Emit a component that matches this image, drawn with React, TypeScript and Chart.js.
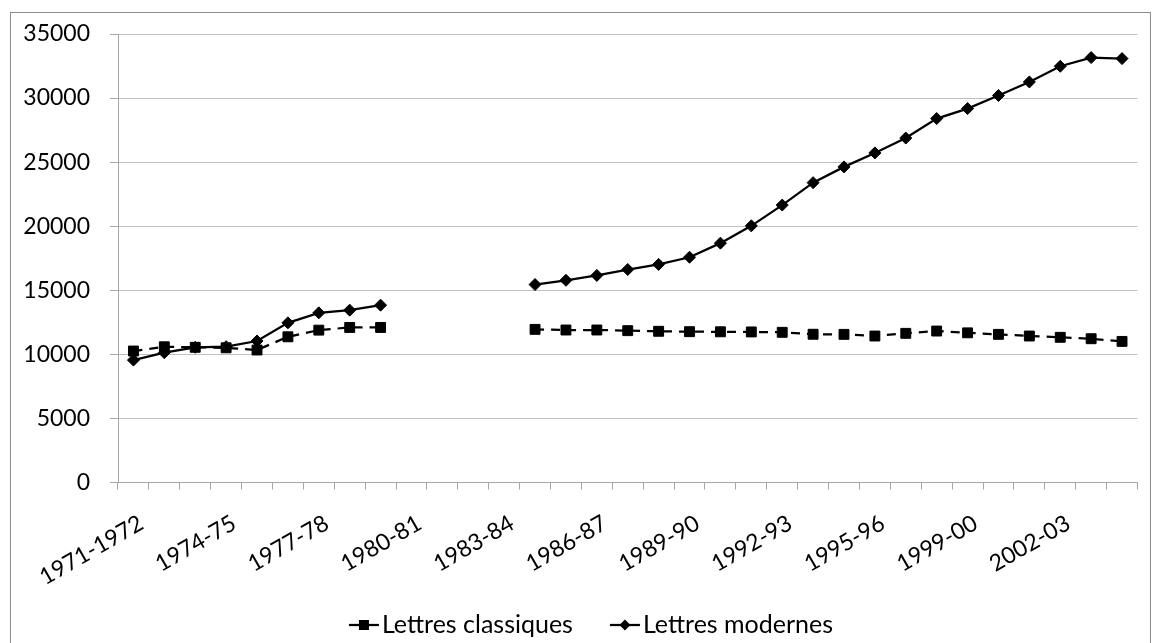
import React, { useEffect, useRef } from "react";
import { Chart, registerables } from "chart.js";

Chart.register(...registerables);

const categories: string[] = [
  "1971-1972", "1972-73", "1973-74", "1974-75", "1975-76", "1976-77", "1977-78",
  "1978-79", "1979-80", "1980-81", "1981-82", "1982-83", "1983-84", "1984-85",
  "1985-86", "1986-87", "1987-88", "1988-89", "1989-90", "1990-91", "1991-92",
  "1992-93", "1993-94", "1994-95", "1995-96", "1996-97", "1997-98", "1999-00",
  "2000-01", "2001-02", "2002-03", "2003-04", "2004-05",
];

const lettresClassiques: (number | null)[] = [
  10260, 10590, 10550, 10510, 10340, 11370, 11890, 12100, 12100,
  null, null, null, null,
  11950, 11900, 11900, 11850, 11800, 11770, 11760, 11750, 11720, 11570,
  11560, 11430, 11640, 11820, 11680, 11560, 11430, 11330, 11220, 11010,
];

const lettresModernes: (number | null)[] = [
  9550, 10130, 10550, 10600, 11040, 12460, 13240, 13450, 13840,
  null, null, null, null,
  15450, 15780, 16160, 16620, 17020, 17580, 18680, 20030, 21650, 23400,
  24630, 25720, 26880, 28400, 29180, 30200, 31260, 32480, 33160, 33080,
];

const seriesNames: string[] = ["Lettres classiques", "Lettres modernes"];

const FONT = "Lato, 'Open Sans', sans-serif";

const outerBorder = {
  id: "outerBorder",
  beforeDraw(chart: any) {
    const ctx = chart.ctx;
    ctx.save();
    ctx.fillStyle = "#ffffff";
    ctx.fillRect(0, 0, chart.width, chart.height);
    ctx.strokeStyle = "#8c8c8c";
    ctx.lineWidth = 1;
    ctx.strokeRect(10.5, 12.5, 1140, 640);
    ctx.restore();
  },
};

const customLegend = {
  id: "customLegend",
  afterDraw(chart: any) {
    const ctx = chart.ctx;
    ctx.save();
    ctx.font = `25px ${FONT}`;
    ctx.fillStyle = "#000";
    ctx.textBaseline = "alphabetic";
    ctx.textAlign = "left";
    const iconW = 30;
    const gapIconText = 3;
    const gapItems = 37;
    const widths = seriesNames.map((n) => ctx.measureText(n).width);
    const total = widths.reduce((a, b) => a + b, 0) + seriesNames.length * (iconW + gapIconText) + gapItems * (seriesNames.length - 1);
    let x = 591 - total / 2;
    const yMid = 625;
    const baseline = 633;
    seriesNames.forEach((name, i) => {
      const cx = x + iconW / 2;
      ctx.strokeStyle = "#000";
      ctx.lineWidth = 2.25;
      ctx.beginPath();
      ctx.moveTo(x, yMid);
      ctx.lineTo(x + iconW, yMid);
      ctx.stroke();
      ctx.fillStyle = "#000";
      ctx.beginPath();
      if (i === 0) {
        ctx.rect(cx - 5, yMid - 5, 10, 10);
      } else {
        ctx.moveTo(cx, yMid - 5.5);
        ctx.lineTo(cx + 5.5, yMid);
        ctx.lineTo(cx, yMid + 5.5);
        ctx.lineTo(cx - 5.5, yMid);
        ctx.closePath();
      }
      ctx.fill();
      ctx.fillText(name, x + iconW + gapIconText, baseline);
      x += iconW + gapIconText + widths[i] + gapItems;
    });
    ctx.restore();
  },
};

export default function App() {
  const canvasRef = useRef<HTMLCanvasElement | null>(null);

  useEffect(() => {
    if (!canvasRef.current) return;
    const chart = new Chart(canvasRef.current, {
      type: "line",
      data: {
        labels: categories,
        datasets: [
          {
            label: seriesNames[0],
            data: lettresClassiques,
            borderColor: "#000",
            backgroundColor: "#000",
            borderWidth: 2.25,
            borderDash: [9, 7],
            pointStyle: "rect",
            pointRadius: 7,
            pointBorderWidth: 1,
            pointBackgroundColor: "#000",
            pointBorderColor: "#000",
            spanGaps: false,
            tension: 0,
            order: 1,
          },
          {
            label: seriesNames[1],
            data: lettresModernes,
            borderColor: "#000",
            backgroundColor: "#000",
            borderWidth: 2.25,
            pointStyle: "rectRot",
            pointRadius: 6,
            pointBorderWidth: 1,
            pointBackgroundColor: "#000",
            pointBorderColor: "#000",
            spanGaps: false,
            tension: 0,
            order: 0,
          },
        ],
      },
      options: {
        responsive: false,
        animation: false,
        events: [],
        layout: { padding: { top: 34, right: 11, bottom: 0, left: 0 } },
        plugins: {
          legend: { display: false },
          tooltip: { enabled: false },
          title: { display: false },
        },
        scales: {
          x: {
            type: "category",
            offset: true,
            grid: {
              offset: true,
              drawOnChartArea: false,
              drawTicks: true,
              tickLength: 7,
              tickColor: "#a6a6a6",
              color: "#a6a6a6",
            },
            border: { display: true, color: "#a6a6a6", width: 1 },
            ticks: {
              autoSkip: false,
              maxRotation: 30,
              minRotation: 30,
              padding: 20,
              labelOffset: 8,
              color: "#000",
              font: { family: FONT, size: 23 },
              callback: (_v: any, i: number) => (i % 3 === 0 ? categories[i] : ""),
            },
            afterFit: (scale: any) => {
              scale.height = 160.5;
            },
          },
          y: {
            min: 0,
            max: 35000,
            grid: {
              color: "#bfbfbf",
              tickColor: "#a6a6a6",
              tickLength: 8,
              lineWidth: 1,
            },
            border: { display: true, color: "#a6a6a6", width: 1 },
            ticks: {
              stepSize: 5000,
              padding: 20,
              color: "#000",
              font: { family: FONT, size: 23 },
              callback: (v: any) => String(v),
            },
            afterFit: (scale: any) => {
              scale.width = 118;
            },
          },
        },
      },
      plugins: [outerBorder, customLegend],
    });
    return () => chart.destroy();
  }, []);

  return (
    <div style={{ position: "fixed", left: 0, top: 0, width: 1156, height: 643 }}>
      <canvas ref={canvasRef} width={1156} height={643} style={{ display: "block", width: 1156, height: 643 }} />
    </div>
  );
}
